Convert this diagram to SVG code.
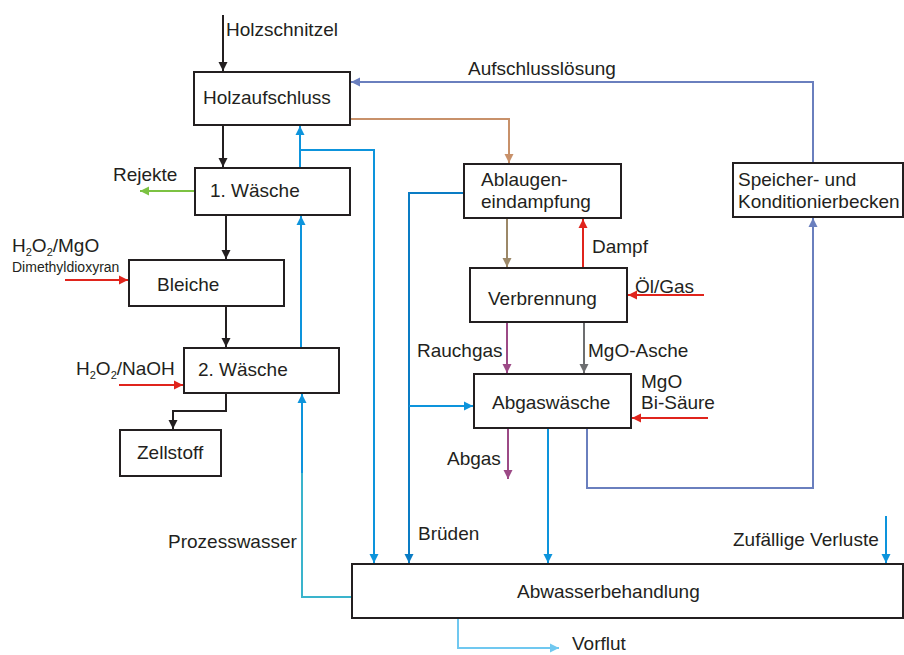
<svg xmlns="http://www.w3.org/2000/svg" width="904" height="655" viewBox="0 0 904 655">
<style>
text{font-family:"Liberation Sans",Arial,sans-serif;font-size:19px;fill:#231f20}
.box{fill:#fff;stroke:#231f20;stroke-width:2}
.c{fill:none;stroke-width:2}
.k{stroke:#231f20}.b{stroke:#0d94dc}.db{stroke:#0a7cc4}.s{stroke:#6a7fbe}.br{stroke:#c8916a}.gb{stroke:#9c8868}
.r{stroke:#e0241c}.g{stroke:#7cc242}.p{stroke:#9c4a86}.gr{stroke:#6d6e70}.cy{stroke:#3ab4cc}.lb{stroke:#70c8f0}
.sm{font-size:14px}
.sub{font-size:11px}
</style>
<defs>
<marker id="mk" markerUnits="userSpaceOnUse" markerWidth="10" markerHeight="10" refX="9" refY="5" orient="auto"><path d="M0,0.5 L9,5 L0,9.5z" fill="#231f20"/></marker>
<marker id="mb" markerUnits="userSpaceOnUse" markerWidth="10" markerHeight="10" refX="9" refY="5" orient="auto"><path d="M0,0.5 L9,5 L0,9.5z" fill="#0d94dc"/></marker>
<marker id="mdb" markerUnits="userSpaceOnUse" markerWidth="10" markerHeight="10" refX="9" refY="5" orient="auto"><path d="M0,0.5 L9,5 L0,9.5z" fill="#0a7cc4"/></marker>
<marker id="ms" markerUnits="userSpaceOnUse" markerWidth="10" markerHeight="10" refX="9" refY="5" orient="auto"><path d="M0,0.5 L9,5 L0,9.5z" fill="#6a7fbe"/></marker>
<marker id="mbr" markerUnits="userSpaceOnUse" markerWidth="10" markerHeight="10" refX="9" refY="5" orient="auto"><path d="M0,0.5 L9,5 L0,9.5z" fill="#c8916a"/></marker>
<marker id="mgb" markerUnits="userSpaceOnUse" markerWidth="10" markerHeight="10" refX="9" refY="5" orient="auto"><path d="M0,0.5 L9,5 L0,9.5z" fill="#9c8868"/></marker>
<marker id="mr" markerUnits="userSpaceOnUse" markerWidth="10" markerHeight="10" refX="9" refY="5" orient="auto"><path d="M0,0.5 L9,5 L0,9.5z" fill="#e0241c"/></marker>
<marker id="mg" markerUnits="userSpaceOnUse" markerWidth="10" markerHeight="10" refX="9" refY="5" orient="auto"><path d="M0,0.5 L9,5 L0,9.5z" fill="#7cc242"/></marker>
<marker id="mp" markerUnits="userSpaceOnUse" markerWidth="10" markerHeight="10" refX="9" refY="5" orient="auto"><path d="M0,0.5 L9,5 L0,9.5z" fill="#9c4a86"/></marker>
<marker id="mgr" markerUnits="userSpaceOnUse" markerWidth="10" markerHeight="10" refX="9" refY="5" orient="auto"><path d="M0,0.5 L9,5 L0,9.5z" fill="#6d6e70"/></marker>
<marker id="mlb" markerUnits="userSpaceOnUse" markerWidth="10" markerHeight="10" refX="9" refY="5" orient="auto"><path d="M0,0.5 L9,5 L0,9.5z" fill="#70c8f0"/></marker>
</defs>

<g id="connectors">
<path class="c k" d="M223,15 V71" marker-end="url(#mk)"/>
<path class="c k" d="M223,125 V167" marker-end="url(#mk)"/>
<path class="c k" d="M226,215 V259" marker-end="url(#mk)"/>
<path class="c k" d="M226,306 V347" marker-end="url(#mk)"/>
<path class="c k" d="M226,393 V411 H173 V429" marker-end="url(#mk)"/>
<path class="c g" d="M195,191 H140" marker-end="url(#mg)"/>
<path class="c r" d="M65,280 H128" marker-end="url(#mr)"/>
<path class="c r" d="M119,385 H183" marker-end="url(#mr)"/>
<path class="c b" d="M300,168 V126" marker-end="url(#mb)"/>
<path class="c b" d="M300,150 H374 V563" marker-end="url(#mb)"/>
<path class="c b" d="M301,348 V216" marker-end="url(#mb)"/>
<path class="c b" d="M302,474 V394" marker-end="url(#mb)"/>
<path class="c cy" d="M352,597 H302 V473"/>
<path class="c db" d="M464,193 H409 V563" marker-end="url(#mdb)"/>
<path class="c b" d="M409,406 H473" marker-end="url(#mb)"/>
<path class="c s" d="M813,163 V82 H351" marker-end="url(#ms)"/>
<path class="c br" d="M350,119 H509 V163" marker-end="url(#mbr)"/>
<path class="c gb" d="M507,218 V267" marker-end="url(#mgb)"/>
<path class="c r" d="M583,268 V219" marker-end="url(#mr)"/>
<path class="c r" d="M704,295 H628" marker-end="url(#mr)"/>
<path class="c p" d="M507,322 V373" marker-end="url(#mp)"/>
<path class="c gr" d="M584,322 V373" marker-end="url(#mgr)"/>
<path class="c r" d="M708,418 H632" marker-end="url(#mr)"/>
<path class="c p" d="M508,428 V479" marker-end="url(#mp)"/>
<path class="c b" d="M548,428 V563" marker-end="url(#mb)"/>
<path class="c s" d="M587,428 V488 H813 V218" marker-end="url(#ms)"/>
<path class="c b" d="M886,516 V563" marker-end="url(#mb)"/>
<path class="c lb" d="M458,618 V648 H559" marker-end="url(#mlb)"/>
</g>

<g id="holzaufschluss"><rect class="box" x="194" y="72" width="156" height="53"/><text x="203" y="104">Holzaufschluss</text></g>
<g id="waesche1"><rect class="box" x="195" y="168" width="155" height="47"/><text x="210" y="197">1. Wäsche</text></g>
<g id="bleiche"><rect class="box" x="129" y="260" width="155" height="46"/><text x="157" y="291">Bleiche</text></g>
<g id="waesche2"><rect class="box" x="184" y="348" width="155" height="45"/><text x="198" y="376">2. Wäsche</text></g>
<g id="zellstoff"><rect class="box" x="120" y="430" width="101" height="46"/><text x="137" y="459">Zellstoff</text></g>
<g id="ablaugen"><rect class="box" x="464" y="164" width="157" height="54"/><text x="481" y="186">Ablaugen-</text><text x="481" y="208">eindampfung</text></g>
<g id="verbrennung"><rect class="box" x="470" y="268" width="157" height="54"/><text x="488" y="305">Verbrennung</text></g>
<g id="abgaswaesche"><rect class="box" x="474" y="374" width="157" height="54"/><text x="492" y="409">Abgaswäsche</text></g>
<g id="speicher"><rect class="box" x="733" y="163" width="170" height="54"/><text x="738" y="186">Speicher- und</text><text x="738" y="208">Konditionierbecken</text></g>
<g id="abwasser"><rect class="box" x="352" y="564" width="551" height="54"/><text x="517" y="598">Abwasserbehandlung</text></g>

<g id="labels">
<text x="226" y="36">Holzschnitzel</text>
<text x="113" y="181">Rejekte</text>
<text x="12" y="252">H<tspan class="sub" dy="4">2</tspan><tspan dy="-4">O</tspan><tspan class="sub" dy="4">2</tspan><tspan dy="-4">/MgO</tspan></text>
<text class="sm" x="12" y="272">Dimethyldioxyran</text>
<text x="76" y="375">H<tspan class="sub" dy="4">2</tspan><tspan dy="-4">O</tspan><tspan class="sub" dy="4">2</tspan><tspan dy="-4">/NaOH</tspan></text>
<text x="468" y="75">Aufschlusslösung</text>
<text x="592" y="253">Dampf</text>
<text x="635" y="293">Öl/Gas</text>
<text x="417" y="357">Rauchgas</text>
<text x="588" y="357">MgO-Asche</text>
<text x="641" y="388">MgO</text>
<text x="641" y="409">Bi-Säure</text>
<text x="447" y="465">Abgas</text>
<text x="168" y="548">Prozesswasser</text>
<text x="418" y="540">Brüden</text>
<text x="733" y="546">Zufällige Verluste</text>
<text x="572" y="650">Vorflut</text>
</g>
</svg>
